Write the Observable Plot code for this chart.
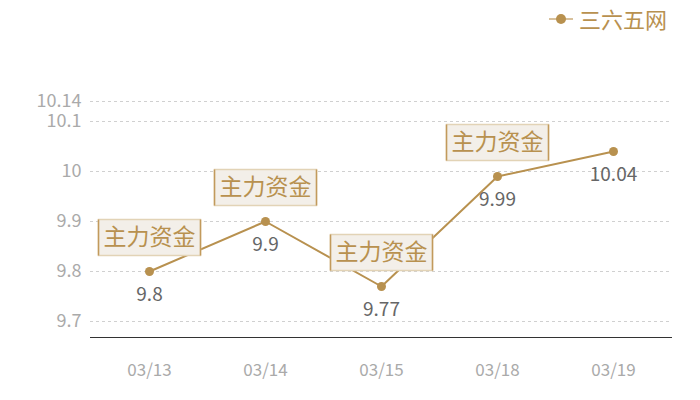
<!DOCTYPE html>
<html><head><meta charset="utf-8">
<script src="https://cdn.jsdelivr.net/npm/d3@7"></script>
<script src="https://cdn.jsdelivr.net/npm/@observablehq/plot@0.6"></script>
<style>
body{margin:0;background:#fff;font-family:"Noto Sans CJK SC","Noto Sans",sans-serif;}
#legend{position:relative;height:40px;width:700px;}
#legend .ln{position:absolute;left:549px;top:18px;width:24px;height:2px;background:#d8c19c;}
#legend .dt{position:absolute;left:556px;top:14px;width:10px;height:10px;border-radius:50%;background:#b8914f;}
#legend .tx{position:absolute;left:579px;top:4px;font-size:22px;line-height:28px;color:#b8914f;}
</style></head>
<body>
<div id="legend"><div class="ln"></div><div class="dt"></div><div class="tx">三六五网</div></div>
<div id="chart"></div>
<script>
const dates = ["03/13","03/14","03/15","03/18","03/19"];
const values = [9.8, 9.9, 9.77, 9.99, 10.04];
const annotated = [true, true, true, true, false];
const yTicks = [9.7, 9.8, 9.9, 10, 10.1, 10.14];
const seriesName = "三六五网";
const annotationText = "主力资金";

const data = dates.map((d,i)=>({date:d, value:values[i], ann:annotated[i]}));
const gold = "#b8914f";

const boxSymbol = {draw(ctx, size){ ctx.moveTo(-51,-18); ctx.lineTo(51,-18); ctx.lineTo(51,18); ctx.lineTo(-51,18); ctx.closePath(); }};
const sideSymbol = {draw(ctx, size){ ctx.moveTo(-51,-18); ctx.lineTo(-51,18); ctx.moveTo(51,-18); ctx.lineTo(51,18); }};

const chart = Plot.plot({
  width:700, height:360,
  marginLeft:90, marginRight:28, marginTop:61, marginBottom:63,
  style:{fontFamily:'"Noto Sans CJK SC","Noto Sans",sans-serif', background:"#fff"},
  x:{type:"point", domain:dates, padding:0.5},
  y:{domain:[9.668,10.14]},
  marks:[
    Plot.gridY(yTicks,{stroke:"#d0d0d0", strokeOpacity:1, strokeDasharray:"3,3"}),
    Plot.axisY(yTicks,{tickSize:0, tickPadding:9, fontSize:18, color:"#aaaaaa", label:null, tickFormat:d=>String(d)}),
    Plot.axisX({tickSize:0, tickPadding:26, fontSize:17, color:"#aaaaaa", label:null}),
    Plot.ruleY([9.668],{stroke:"#333", strokeWidth:1.2}),
    Plot.line(data,{x:"date", y:"value", stroke:gold, strokeWidth:2}),
    Plot.dot(data,{x:"date", y:"value", fill:gold, r:4.5}),
    Plot.text(data,{x:"date", y:"value", text:d=>String(d.value), dy:23, fontSize:19, fill:"#666"}),
    Plot.dot(data.filter(d=>d.ann),{x:"date", y:"value", symbol:boxSymbol, fill:"#f3efe9", stroke:"#e2d3b6", strokeWidth:1.5, dy:-34}),
    Plot.dot(data.filter(d=>d.ann),{x:"date", y:"value", symbol:sideSymbol, fill:"none", stroke:"#c29a5c", strokeWidth:1.5, dy:-34}),
    Plot.text(data.filter(d=>d.ann),{x:"date", y:"value", text:()=>annotationText, dy:-34, fontSize:23, fill:gold})
  ]
});
document.getElementById("chart").appendChild(chart);
</script>
</body></html>
